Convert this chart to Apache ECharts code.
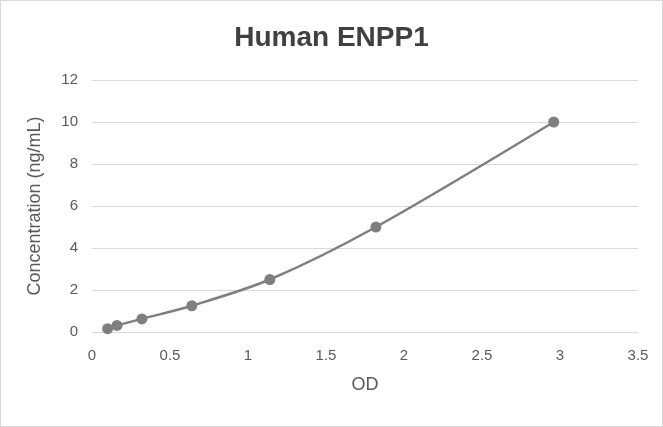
<!DOCTYPE html>
<html><head><meta charset="utf-8">
<script src="https://cdn.jsdelivr.net/npm/echarts@6/dist/echarts.min.js"></script>
<style>html,body{margin:0;padding:0;background:#fff}#c{width:663px;height:427px;box-sizing:border-box;border:1px solid #d9d9d9}</style>
</head><body><div id="c"></div>
<script>
const odValues = [0.1, 0.16, 0.32, 0.64, 1.14, 1.82, 2.96];
const concValues = [0.156, 0.312, 0.625, 1.25, 2.5, 5, 10];
const titleText = 'Human ENPP1';
const xName = 'OD';
const yName = 'Concentration (ng/mL)';
const chart = echarts.init(document.getElementById('c'));
chart.setOption({
  animation: false,
  title: {text: titleText, left: 'center', top: 18, textStyle: {fontFamily: 'Liberation Sans, Arial', fontSize: 28, fontWeight: 'bold', color: '#404040'}},
  grid: {left: 91, right: 24, top: 79, bottom: 94},
  xAxis: {type: 'value', min: 0, max: 3.5, interval: 0.5, name: xName, nameLocation: 'middle', nameGap: 44,
    nameTextStyle: {fontFamily: 'Liberation Sans, Arial', fontSize: 18, color: '#595959'},
    axisLine: {lineStyle: {color: '#d9d9d9'}}, axisTick: {show: false}, splitLine: {show: false},
    axisLabel: {fontFamily: 'Liberation Sans, Arial', fontSize: 15, color: '#595959', margin: 16}},
  yAxis: {type: 'value', min: 0, max: 12, interval: 2, name: yName, nameLocation: 'middle', nameGap: 48,
    nameTextStyle: {fontFamily: 'Liberation Sans, Arial', fontSize: 18, color: '#595959'},
    axisLine: {show: false}, axisTick: {show: false},
    splitLine: {lineStyle: {color: '#d9d9d9'}},
    axisLabel: {fontFamily: 'Liberation Sans, Arial', fontSize: 15, color: '#595959', margin: 14}},
  series: [{type: 'line', smooth: 0.3, data: odValues.map((x, i) => [x, concValues[i]]),
    symbol: 'circle', symbolSize: 11,
    lineStyle: {color: '#7f7f7f', width: 2.5}, itemStyle: {color: '#7f7f7f'}}]
});
</script></body></html>
